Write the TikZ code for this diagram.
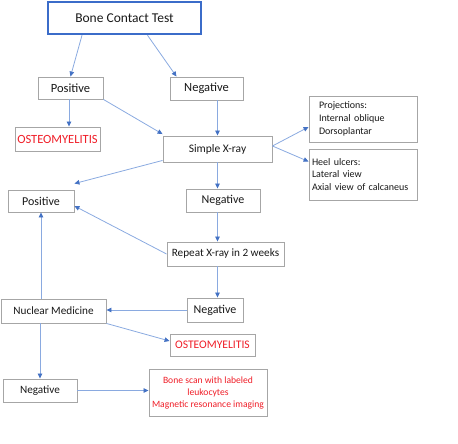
\documentclass[tikz,border=0pt]{standalone}
\usepackage{fontspec}
\setmainfont{Carlito}
\usetikzlibrary{arrows.meta}
\definecolor{boxgray}{HTML}{A6A6A6}
\definecolor{linkblue}{HTML}{8AAAE0}
\definecolor{tipblue}{HTML}{4472C4}
\definecolor{bctblue}{HTML}{3B6CC9}
\definecolor{alertred}{HTML}{F01E28}
\tikzset{
  box/.style={draw=boxgray, line width=0.9pt, fill=white, inner sep=0pt, text=black!90},
  link/.style={draw=linkblue, line width=0.8pt, -{Triangle[length=5pt,width=4.5pt,color=tipblue]}},
  redtxt/.style={text=alertred}
}
\begin{document}
\begin{tikzpicture}[x=1pt,y=-1pt]
\useasboundingbox (0,0) rectangle (458,444);
% nodes
\node[box, draw=bctblue, line width=2.5pt, minimum width=153pt, minimum height=32pt, font=\fontsize{13.5}{16}\selectfont] (bct) at (124.5,18) {Bone Contact Test};
\node[box, minimum width=65pt, minimum height=22pt, font=\fontsize{12.5}{15}\selectfont] (pos1) at (70.5,88) {Positive};
\node[box, minimum width=73pt, minimum height=23pt, font=\fontsize{12.5}{15}\selectfont] (neg1) at (206.5,88.5) {Negative};
\node[box, redtxt, minimum width=85pt, minimum height=24pt, font=\fontsize{12.5}{15}\selectfont] (ost1) at (57.5,139) {OSTEOMYELITIS};
\node[box, minimum width=109pt, minimum height=26pt, font=\fontsize{11.5}{14}\selectfont] (sxr) at (217.5,149) {Simple X-ray};
\node[box, minimum height=46pt, inner xsep=10pt, text width=88pt, align=left, font=\fontsize{10}{13}\selectfont] (proj) at (363,119) {Projections:\\Internal oblique\\Dorsoplantar};
\node[box, minimum height=51pt, inner xsep=3pt, text width=102pt, align=left, font=\fontsize{10}{12.8}\selectfont] (heel) at (363,174.5) {Heel ulcers:\\Lateral view\\Axial view of calcaneus};
\node[box, minimum width=66pt, minimum height=22pt, font=\fontsize{12}{15}\selectfont] (pos2) at (41,201) {Positive};
\node[box, minimum width=74pt, minimum height=23pt, font=\fontsize{12}{15}\selectfont] (neg2) at (223,200.5) {Negative};
\node[box, minimum width=117pt, minimum height=24pt, font=\fontsize{11.2}{14}\selectfont] (rep) at (225.5,254) {Repeat X-ray in 2 weeks};
\node[box, minimum width=56pt, minimum height=24pt, font=\fontsize{12}{15}\selectfont] (neg3) at (215,310) {Negative};
\node[box, minimum width=105pt, minimum height=24pt, font=\fontsize{11.2}{14}\selectfont] (nuc) at (53.5,311) {Nuclear Medicine};
\node[box, redtxt, minimum width=85pt, minimum height=22pt, font=\fontsize{11.6}{14}\selectfont] (ost2) at (212.5,345) {OSTEOMYELITIS};
\node[box, minimum width=74pt, minimum height=23pt, font=\fontsize{11.2}{14}\selectfont] (neg4) at (40,390.5) {Negative};
\node[box, redtxt, minimum width=118pt, minimum height=47pt, align=center, font=\fontsize{9.6}{12}\selectfont] (bone) at (208,392.5) {Bone scan with labeled\\leukocytes\\Magnetic resonance imaging};
% connectors
\draw[link] ([xshift=-42.5pt]bct.south) -- (pos1.north);
\draw[link] ([xshift=23pt]bct.south) -- ([xshift=-30pt]neg1.north);
\draw[link] ([xshift=-1.5pt]pos1.south) -- ([xshift=-1.5pt]pos1.south |- ost1.north);
\draw[link] (pos1.south east) -- ([yshift=1.5pt]sxr.north west);
\draw[link] (neg1.south -| sxr.north) -- (sxr.north);
\draw[link] ([yshift=3pt]sxr.east) -- ([yshift=-8pt]proj.west);
\draw[link] ([yshift=3pt]sxr.east) -- ([yshift=13pt]heel.west);
\draw[link] ([yshift=2pt]sxr.south west) -- ([yshift=6pt]pos2.north east);
\draw[link] (sxr.south) -- (sxr.south |- neg2.north);
\draw[link] (neg2.south -| sxr.south) -- (rep.north -| sxr.south);
\draw[link] (rep.west) -- ([yshift=-5pt]pos2.east);
\draw[link] (nuc.north -| pos2.south) -- (pos2.south);
\draw[link] (rep.south -| sxr.south) -- (neg3.north -| sxr.south);
\draw[link] (neg3.west) -- (neg3.west -| nuc.east);
\draw[link] (nuc.south east) -- ([yshift=4pt]ost2.west);
\draw[link] (nuc.south -| neg4.north) -- (neg4.north);
\draw[link] (neg4.east) -- (neg4.east -| bone.west);
\end{tikzpicture}
\end{document}
